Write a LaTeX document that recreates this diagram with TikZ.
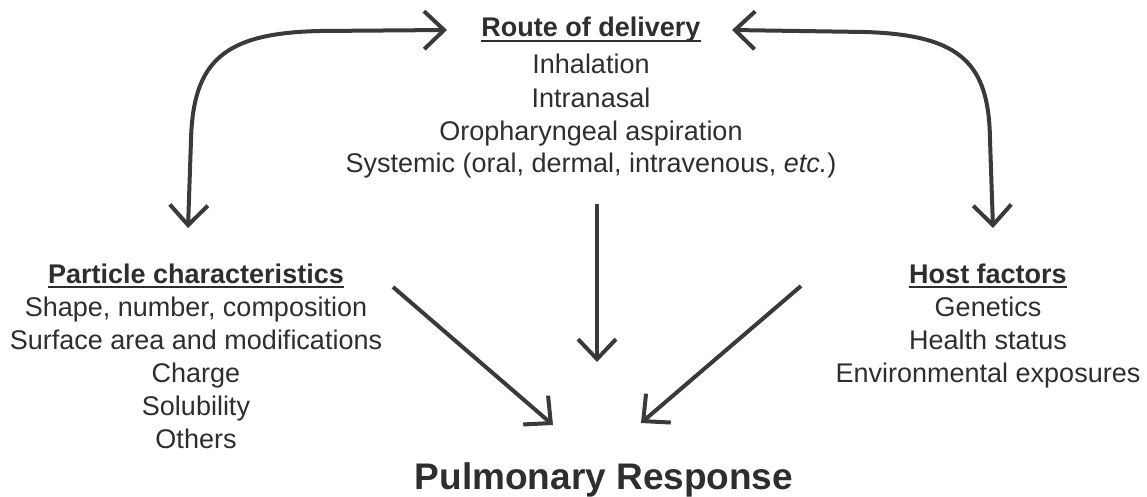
\documentclass[tikz,border=0pt]{standalone}
\usepackage{fontspec}
\setmainfont{Liberation Sans}
\usetikzlibrary{arrows.meta}
\definecolor{ink}{HTML}{2E2E2E}
\definecolor{arrowgray}{HTML}{3A3A3A}
\begin{document}
\begin{tikzpicture}[x=1pt,y=-1pt,
  txt/.style={inner sep=0pt, anchor=base, text=ink, font=\fontsize{27}{33}\selectfont},
  head/.style={txt, font=\fontsize{27}{33}\selectfont\bfseries},
  result/.style={inner sep=0pt, anchor=base, text=ink, font=\fontsize{37}{44}\selectfont\bfseries},
  uline/.style={draw=ink, line width=2pt},
  barb/.tip={Straight Barb[length=20pt,width=38pt]},
  flow/.style={draw=arrowgray, line width=4pt, line join=miter, -barb},
  twoway/.style={flow, barb-barb}]
\useasboundingbox (0,0) rectangle (1147,497);

% route of delivery (top)
\node[head] (route) at (591,37) {Route of delivery};
\node[txt] (route1) at (591,74) {Inhalation};
\node[txt] (route2) at (591,108) {Intranasal};
\node[txt] (route3) at (591,141) {Oropharyngeal aspiration};
\node[txt] (route4) at (591,172) {Systemic (oral, dermal, intravenous, \textit{etc.})};

% particle characteristics (left)
\node[head] (part) at (196,283) {Particle characteristics};
\node[txt] (part1) at (196,316) {Shape, number, composition};
\node[txt] (part2) at (196,349) {Surface area and modifications};
\node[txt] (part3) at (196,382) {Charge};
\node[txt] (part4) at (196,415) {Solubility};
\node[txt] (part5) at (196,448) {Others};

% host factors (right)
\node[head] (host) at (988,283) {Host factors};
\node[txt] (host1) at (988,316) {Genetics};
\node[txt] (host2) at (988,349) {Health status};
\node[txt] (host3) at (988,382) {Environmental exposures};

% outcome
\node[result] (resp) at (604,489) {Pulmonary Response};

% heading underlines
\foreach \h in {route,part,host}
  \draw[uline] ([yshift=-4pt]\h.base west) -- ([yshift=-4pt]\h.base east);

% connector end points
\coordinate (routeL) at (447,30);
\coordinate (routeR) at (732,30);
\coordinate (partTop) at (188,228);
\coordinate (hostTop) at (993,228);
\coordinate (routeOut) at (597,204);
\coordinate (respTop) at (597,362);
\coordinate (partOut) at (393,287);
\coordinate (respL) at (553,425);
\coordinate (hostOut) at (801,286);
\coordinate (respR) at (641,423);

% two-way links between the factor groups
\draw[twoway] (routeL) -- (320,31) .. controls (225,33) and (193,60) .. (191,140) -- (partTop);
\draw[twoway] (routeR) -- (865,32) .. controls (962,35) and (989,64) .. (990,140) -- (hostTop);

% contributions to the response
\draw[flow] (routeOut) -- (respTop);
\draw[flow] (partOut) -- (respL);
\draw[flow] (hostOut) -- (respR);
\end{tikzpicture}
\end{document}
